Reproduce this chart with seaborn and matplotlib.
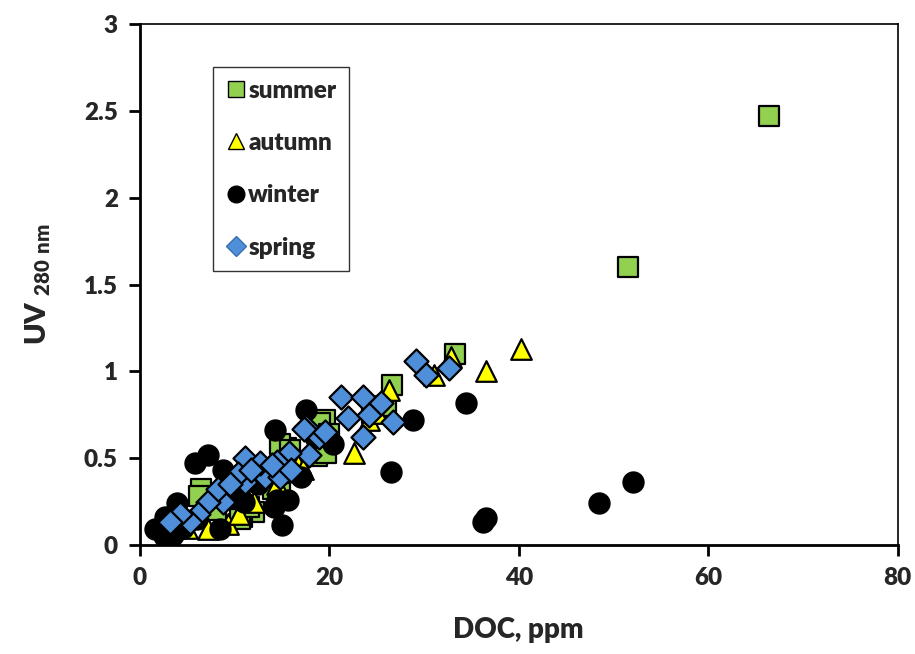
import matplotlib
matplotlib.use("Agg")
import matplotlib.pyplot as plt
import seaborn as sns
import pandas as pd
from matplotlib.lines import Line2D

summer_x = [66.4, 51.5, 33.3, 26.6, 26.0, 19.5, 19.0, 18.7, 19.6, 15.4, 14.8, 15.8, 14.0, 14.8, 12.0, 10.8, 10.6, 9.5, 6.4, 6.2, 13.0, 11.5, 16.5, 8.0, 24.5, 20.0]
summer_y = [2.47, 1.60, 1.10, 0.92, 0.80, 0.72, 0.70, 0.51, 0.53, 0.56, 0.58, 0.55, 0.32, 0.30, 0.19, 0.16, 0.15, 0.28, 0.32, 0.28, 0.40, 0.22, 0.45, 0.20, 0.76, 0.64]

autumn_x = [40.2, 36.5, 31.0, 32.8, 26.3, 24.2, 25.0, 22.6, 16.7, 17.2, 9.3, 7.2, 12.0, 14.5, 5.0, 10.5]
autumn_y = [1.13, 1.00, 0.98, 1.08, 0.89, 0.72, 0.76, 0.53, 0.46, 0.44, 0.12, 0.09, 0.25, 0.35, 0.10, 0.18]

winter_x = [52.1, 48.5, 36.5, 36.2, 34.4, 28.8, 26.5, 20.4, 17.5, 14.3, 7.2, 5.8, 8.8, 15.0, 8.5, 15.6, 1.6, 2.6, 3.9, 14.1, 17.0, 14.5, 9.5, 2.5, 4.5, 6.0, 10.5, 12.5, 18.5, 3.5, 11.0]
winter_y = [0.36, 0.24, 0.155, 0.135, 0.82, 0.72, 0.42, 0.58, 0.78, 0.66, 0.52, 0.47, 0.43, 0.115, 0.09, 0.26, 0.09, 0.16, 0.24, 0.22, 0.39, 0.26, 0.32, 0.05, 0.10, 0.15, 0.30, 0.35, 0.62, 0.06, 0.25]

spring_x = [29.1, 30.2, 32.6, 21.2, 23.6, 25.4, 22.0, 24.2, 26.7, 23.5, 18.9, 17.8, 17.5, 17.3, 15.7, 14.5, 13.2, 14.8, 11.1, 11.1, 10.3, 8.8, 7.2, 6.1, 5.3, 4.2, 3.2, 12.7, 8.2, 11.7, 13.9, 15.9, 19.5, 9.5]
spring_y = [1.06, 0.98, 1.02, 0.85, 0.85, 0.82, 0.73, 0.75, 0.71, 0.62, 0.62, 0.52, 0.68, 0.67, 0.53, 0.48, 0.39, 0.39, 0.50, 0.36, 0.41, 0.25, 0.25, 0.18, 0.13, 0.18, 0.13, 0.47, 0.32, 0.43, 0.46, 0.43, 0.65, 0.35]

seasons = ["summer", "autumn", "winter", "spring"]
colors = {"summer": "#92D050", "autumn": "#FFFF00", "winter": "#000000", "spring": "#4F8ED8"}
markers = {"summer": "s", "autumn": "^", "winter": "o", "spring": "D"}
sizes = {"summer": 190, "autumn": 220, "winter": 210, "spring": 150}

frames = []
for name, xs, ys in [("summer", summer_x, summer_y), ("autumn", autumn_x, autumn_y),
                     ("winter", winter_x, winter_y), ("spring", spring_x, spring_y)]:
    frames.append(pd.DataFrame({"DOC": xs, "UV": ys, "season": name}))
df = pd.concat(frames, ignore_index=True)

sns.set_style("white")
plt.rcParams['font.family'] = ['Lato', 'DejaVu Sans']
plt.rcParams['mathtext.fontset'] = 'custom'
plt.rcParams['mathtext.rm'] = 'Lato:heavy'
plt.rcParams['mathtext.bf'] = 'Lato:heavy'

W = 'heavy'

fig = plt.figure(figsize=(9.15, 6.54), dpi=100)
ax = fig.add_axes([0.153, 0.1667, 0.828, 0.7963])

for name in seasons:
    sub = df[df.season == name]
    sns.scatterplot(data=sub, x="DOC", y="UV", color=colors[name], marker=markers[name],
                    s=sizes[name], edgecolor="black", linewidth=1.6, ax=ax, legend=False, zorder=3)

ax.set_xlim(0, 80)
ax.set_ylim(0, 3)
ax.set_xticks([0, 20, 40, 60, 80])
ax.set_yticks([0, 0.5, 1, 1.5, 2, 2.5, 3])
ax.set_yticklabels(["0", "0.5", "1", "1.5", "2", "2.5", "3"])
ax.tick_params(axis='both', direction='out', length=8, width=2, labelsize=17.5, pad=8,
               left=True, bottom=True, color='black')
for lab in ax.get_xticklabels() + ax.get_yticklabels():
    lab.set_fontweight(W)
for sp in ax.spines.values():
    sp.set_color('black')
    sp.set_linewidth(1.2)
ax.spines['left'].set_linewidth(2)
ax.spines['bottom'].set_linewidth(2)

ax.set_xlabel("DOC, ppm", fontsize=20, fontweight=W, labelpad=20)
ax.set_ylabel(r"UV $_{\mathbf{280\ nm}}$", fontsize=21, fontweight=W, labelpad=22)

handles = [Line2D([0], [0], marker=markers[n], linestyle='none', markerfacecolor=colors[n],
                  markeredgecolor='black' if n != 'spring' else '#3A6FB0', markeredgewidth=1,
                  markersize=12 if n != 'spring' else 10, label=n) for n in seasons]
leg = ax.legend(handles=handles, loc='upper left', bbox_to_anchor=(0.0964, 0.917),
                frameon=True, fancybox=False, edgecolor='black', labelspacing=1.25,
                handletextpad=0.05, borderpad=0.5, borderaxespad=0, handlelength=0.9,
                prop={'weight': W, 'size': 17.5})
leg.get_frame().set_linewidth(1.0)

fig.savefig("out.png", dpi=100, facecolor='white')
